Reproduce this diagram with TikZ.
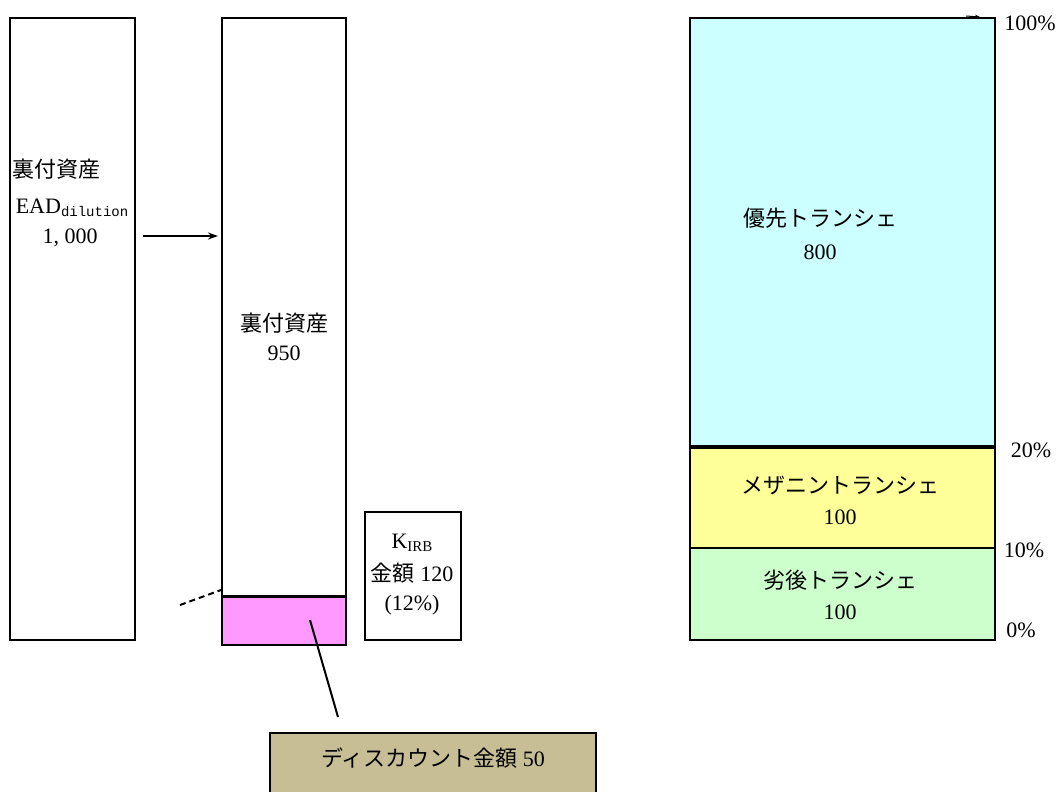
\documentclass[tikz,border=0pt]{standalone}
\usepackage{fontspec}
\setmainfont{Liberation Serif}
\setmonofont{Liberation Mono}
\newfontfamily\cjk{Noto Sans CJK JP}
\usetikzlibrary{arrows.meta}
\definecolor{pinkfill}{HTML}{FF99FF}
\definecolor{tanfill}{HTML}{C8BE96}
\definecolor{cyanfill}{HTML}{CCFFFF}
\definecolor{yellowfill}{HTML}{FFFF99}
\definecolor{greenfill}{HTML}{CCFFCC}
\begin{document}
\begin{tikzpicture}[x=1pt,y=-1pt,
  box/.style={draw=black, line width=2pt, anchor=north west, inner sep=0, outer sep=0},
  lbl/.style={font=\fontsize{22}{26}\selectfont, inner sep=0},
  conn/.style={draw=black, line width=2pt}]
\useasboundingbox (0,0) rectangle (1063,792);
% left column
\node[box, minimum width=125pt, minimum height=622pt] (leftbox) at (10,18) {};
\node[lbl, anchor=west] (lt1) at (12,169) {\cjk 裏付資産};
\node[lbl] (lt2) at (72,208) {EAD\raisebox{-0.35ex}{\fontsize{14}{14}\selectfont\ttfamily dilution}};
\node[lbl] (lt3) at (70,238) {1, 000};
% middle column
\node[box, minimum width=124pt, minimum height=578pt] (midbox) at (222,18) {};
\node[box, fill=pinkfill, minimum width=124pt, minimum height=48pt] (pinkbox) at (222,597) {};
\node[lbl] (mt1) at (284,323) {\cjk 裏付資産};
\node[lbl] (mt2) at (284,353) {950};
% KIRB box
\node[box, minimum width=96pt, minimum height=128pt] (kbox) at (365,512) {};
\node[lbl] (kt1) at (412,543) {K\raisebox{-0.3ex}{\fontsize{15}{15}\selectfont IRB}};
\node[lbl] (kt2) at (412,573) {{\cjk 金額} 120};
\node[lbl] (kt3) at (412,605) {(12\%)};
% discount box
\node[box, fill=tanfill, minimum width=326pt, minimum height=80pt] (disc) at (270,733) {};
\node[lbl] (dt) at (433,758) {{\cjk ディスカウント金額} 50};
% right stack
\node[box, fill=cyanfill, minimum width=305pt, minimum height=428pt] (senior) at (690,18) {};
\node[box, fill=yellowfill, minimum width=305pt, minimum height=100pt] (mezz) at (690,448) {};
\node[box, fill=greenfill, minimum width=305pt, minimum height=92pt] (junior) at (690,548) {};
\node[lbl] (st1) at (820,218) {\cjk 優先トランシェ};
\node[lbl] (st2) at (820,252) {800};
\node[lbl] (zt1) at (840,485) {\cjk メザニントランシェ};
\node[lbl] (zt2) at (840,517) {100};
\node[lbl] (jt1) at (840,580) {\cjk 劣後トランシェ};
\node[lbl] (jt2) at (840,612) {100};
% percentages
\node[lbl] (p100) at (1030,23) {100\%};
\node[lbl] (p20) at (1031,450) {20\%};
\node[lbl] (p10) at (1024,550) {10\%};
\node[lbl] (p0) at (1021,630) {0\%};
% connectors
\coordinate (arS) at (143,236);
\coordinate (arE) at (218,236);
\draw[conn, -{Stealth[length=10pt,width=7pt]}] (arS) -- (arE);
\coordinate (dashS) at (180,605);
\coordinate (dashE) at (221,590);
\draw[conn, dash pattern=on 6pt off 4pt] (dashS) -- (dashE);
\coordinate (lnS) at (310,620);
\coordinate (lnE) at (338,717);
\draw[conn] (lnS) -- (lnE);
\coordinate (tinyS) at (966,16);
\coordinate (tinyE) at (980,17);
\draw[line width=1pt, -{Stealth[length=5pt,width=4pt]}] (tinyS) -- (tinyE);
\end{tikzpicture}
\end{document}
